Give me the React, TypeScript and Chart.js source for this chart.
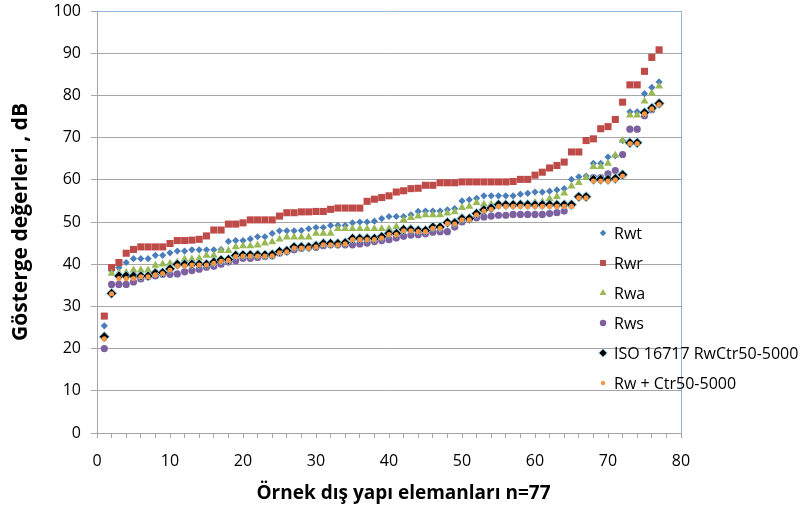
import React, { useEffect, useRef } from 'react';
import { Chart, registerables } from 'chart.js';
import { drawPoint } from 'chart.js/helpers';

Chart.register(...registerables);

// Sample index (x)
const sampleIndex = [
  1, 2, 3, 4, 5, 6, 7, 8, 9, 10, 11, 12, 13, 14, 15, 16, 17, 18, 19, 20,
  21, 22, 23, 24, 25, 26, 27, 28, 29, 30, 31, 32, 33, 34, 35, 36, 37, 38, 39, 40,
  41, 42, 43, 44, 45, 46, 47, 48, 49, 50, 51, 52, 53, 54, 55, 56, 57, 58, 59, 60,
  61, 62, 63, 64, 65, 66, 67, 68, 69, 70, 71, 72, 73, 74, 75, 76, 77,
];

const rwt = [
  25.4, 38.5, 39.2, 40.4, 41.3, 41.3, 41.3, 42.1, 42.1, 42.7,
  43.1, 43.1, 43.4, 43.4, 43.4, 43.4, 43.5, 45.4, 45.6, 45.6,
  46.0, 46.5, 46.5, 47.3, 47.9, 47.9, 47.9, 48.0, 48.4, 48.7,
  48.7, 49.2, 49.2, 49.2, 49.8, 50.0, 50.0, 50.2, 50.8, 51.3,
  51.3, 51.3, 51.7, 52.5, 52.6, 52.6, 52.6, 52.9, 53.2, 55.0,
  55.3, 55.6, 56.2, 56.2, 56.2, 56.2, 56.2, 56.6, 56.8, 57.1,
  57.1, 57.3, 57.6, 57.9, 60.1, 60.7, 60.9, 63.9, 63.9, 65.4,
  65.7, 69.3, 76.1, 76.1, 80.4, 81.9, 83.2,
];

const rwr = [
  27.7, 39.2, 40.4, 42.6, 43.5, 44.1, 44.1, 44.1, 44.1, 44.9,
  45.6, 45.6, 45.7, 45.9, 46.7, 48.1, 48.1, 49.5, 49.5, 49.8,
  50.5, 50.5, 50.5, 50.5, 51.4, 52.2, 52.2, 52.4, 52.4, 52.5,
  52.5, 53.0, 53.3, 53.3, 53.3, 53.3, 54.9, 55.4, 55.8, 56.2,
  57.1, 57.4, 57.9, 58.0, 58.7, 58.7, 59.3, 59.3, 59.3, 59.5,
  59.5, 59.5, 59.5, 59.5, 59.5, 59.5, 59.6, 60.1, 60.1, 61.1,
  61.8, 62.8, 63.4, 64.2, 66.6, 66.6, 69.3, 69.7, 72.1, 72.6,
  74.3, 78.4, 82.5, 82.5, 85.7, 89.0, 90.8,
];

const rwa = [
  23.0, 37.8, 38.0, 38.0, 38.6, 38.6, 38.6, 39.7, 40.0, 40.2,
  40.5, 41.2, 41.2, 41.4, 42.1, 42.1, 43.2, 43.2, 44.1, 44.3,
  44.3, 44.5, 45.0, 45.3, 45.9, 46.4, 46.4, 46.4, 46.4, 47.3,
  47.3, 47.3, 48.4, 48.4, 48.4, 48.4, 48.4, 48.4, 48.4, 48.4,
  48.9, 50.5, 51.0, 51.4, 51.7, 51.7, 51.7, 52.1, 52.4, 53.4,
  53.7, 54.6, 54.2, 54.2, 54.2, 54.2, 54.2, 54.2, 54.2, 54.6,
  54.8, 55.5, 56.0, 56.8, 58.5, 59.3, 60.5, 63.1, 63.1, 63.9,
  65.8, 69.3, 75.3, 75.3, 78.6, 80.5, 82.2,
];

const rws = [
  20.0, 35.2, 35.2, 35.2, 35.8, 36.5, 37.0, 37.2, 37.6, 37.6,
  37.7, 38.2, 38.5, 38.8, 39.3, 39.5, 40.0, 40.5, 40.8, 41.4,
  41.4, 41.6, 41.8, 42.0, 42.6, 43.0, 43.4, 43.8, 44.0, 44.0,
  44.4, 44.6, 44.6, 44.6, 44.6, 44.8, 45.0, 45.4, 45.6, 45.8,
  46.2, 46.6, 46.9, 47.0, 47.2, 47.6, 47.7, 47.7, 48.8, 50.0,
  50.6, 51.0, 51.2, 51.4, 51.6, 51.6, 51.8, 51.8, 51.8, 51.8,
  51.8, 52.0, 52.2, 52.6, 54.0, 56.0, 56.0, 60.5, 60.5, 61.4,
  62.2, 66.0, 72.0, 72.0, 75.2, 76.6, 78.0,
];

const iso16717 = [
  22.8, 33.1, 37.2, 37.2, 37.2, 37.2, 37.2, 37.9, 38.0, 38.9,
  40.0, 40.0, 40.0, 40.0, 40.0, 40.5, 41.0, 41.1, 42.1, 42.2,
  42.2, 42.2, 42.2, 42.3, 43.0, 43.2, 44.1, 44.1, 44.1, 44.4,
  44.9, 44.9, 44.9, 45.1, 46.1, 46.1, 46.1, 46.1, 46.5, 47.3,
  47.3, 48.2, 48.2, 48.0, 48.0, 48.8, 48.8, 49.9, 49.8, 50.8,
  50.8, 52.0, 52.9, 53.3, 54.1, 54.1, 54.1, 54.1, 54.1, 54.1,
  54.1, 54.1, 54.1, 54.1, 54.1, 56.0, 56.0, 60.1, 60.1, 60.1,
  60.3, 61.2, 68.8, 68.8, 75.9, 77.0, 78.1,
];

const rwCtr = [
  22.3, 33.0, 36.6, 36.6, 36.6, 37.0, 37.0, 37.5, 37.8, 38.6,
  39.6, 39.6, 39.8, 39.8, 39.8, 40.2, 40.7, 40.9, 41.8, 41.9,
  41.9, 41.9, 41.9, 42.0, 42.7, 42.9, 43.8, 43.8, 43.8, 44.1,
  44.6, 44.6, 44.6, 44.8, 45.8, 45.8, 45.8, 45.8, 46.2, 47.0,
  47.0, 47.9, 47.9, 47.7, 47.7, 48.5, 48.5, 49.6, 49.5, 50.5,
  50.5, 51.7, 52.6, 53.0, 53.7, 53.7, 53.7, 53.7, 53.7, 53.7,
  53.7, 53.7, 53.7, 53.7, 53.7, 55.7, 55.7, 59.7, 59.7, 59.7,
  60.0, 60.9, 68.6, 68.6, 75.6, 76.8, 77.8,
];

const seriesNames = ['Rwt', 'Rwr', 'Rwa', 'Rws', 'ISO 16717 RwCtr50-5000', 'Rw + Ctr50-5000'];
const xTickLabels = ['0', '10', '20', '30', '40', '50', '60', '70', '80'];
const yTickLabels = ['0', '10', '20', '30', '40', '50', '60', '70', '80', '90', '100'];
const xTitle = 'Örnek dış yapı elemanları n=77';
const yTitle = 'Gösterge değerleri , dB';

const FONT = '"Open Sans"';
const GRID = '#A6A6A6';
const FRAME = '#95B3D7';

const toPoints = (ys: number[]) => ys.map((y, i) => ({ x: sampleIndex[i], y }));

const legendPlugin = {
  id: 'insideLegend',
  afterDraw(chart: any) {
    const { ctx, chartArea } = chart;
    const markerX = chartArea.right - 78;
    const textX = chartArea.right - 67;
    const startY = chartArea.top + 222;
    const step = 30;
    ctx.save();
    chart.data.datasets.forEach((ds: any, i: number) => {
      const y = startY + i * step;
      ctx.fillStyle = ds.backgroundColor;
      ctx.strokeStyle = ds.borderColor;
      ctx.lineWidth = ds.borderWidth;
      drawPoint(
        ctx,
        { pointStyle: ds.pointStyle, radius: ds.legendRadius, rotation: 0, borderWidth: ds.borderWidth } as any,
        markerX,
        y,
      );
      ctx.font = `16px ${FONT}`;
      ctx.fillStyle = '#000';
      ctx.textBaseline = 'middle';
      ctx.textAlign = 'left';
      ctx.fillText(seriesNames[i], textX, y + 1);
    });
    // x-axis title, centred on the whole chart as in the reference
    ctx.font = `bold 19px ${FONT}`;
    ctx.fillStyle = '#000';
    ctx.textAlign = 'center';
    ctx.textBaseline = 'middle';
    ctx.fillText(xTitle, chart.width / 2, chartArea.bottom + 61);
    ctx.restore();
  },
};

export default function App() {
  const ref = useRef<HTMLCanvasElement | null>(null);

  useEffect(() => {
    if (!ref.current) return;
    const mk = (
      label: string,
      data: number[],
      color: string,
      style: string,
      radius: number,
      legendRadius: number,
      order: number,
      border?: string,
      borderWidth = 0,
    ) => ({
      label,
      data: toPoints(data),
      backgroundColor: color,
      borderColor: border || color,
      borderWidth,
      pointStyle: style,
      pointRadius: radius,
      pointBorderWidth: borderWidth,
      pointHoverRadius: radius,
      legendRadius,
      order,
      showLine: false,
    });

    const chart = new Chart(ref.current, {
      type: 'scatter',
      data: {
        datasets: [
          mk(seriesNames[0], rwt, '#4A7EBB', 'rectRot', 3.6, 3.2, 6),
          mk(seriesNames[1], rwr, '#BE4B48', 'rect', 5, 4.2, 5),
          mk(seriesNames[2], rwa, '#98B954', 'triangle', 4.6, 4, 4),
          mk(seriesNames[3], rws, '#7D60A0', 'circle', 3.6, 3.2, 3),
          mk(seriesNames[4], iso16717, '#000000', 'rectRot', 5, 4.2, 2, '#7FC6E0', 1),
          mk(seriesNames[5], rwCtr, '#F79646', 'circle', 2.6, 2.2, 1),
        ] as any,
      },
      options: {
        responsive: false,
        animation: false,
        events: [],
        layout: { padding: { left: 0, right: 126, top: 11, bottom: 0 } },
        plugins: {
          legend: { display: false },
          tooltip: { enabled: false },
        },
        scales: {
          x: {
            type: 'linear',
            min: 0,
            max: 80,
            ticks: {
              stepSize: 2,
              maxTicksLimit: 100,
              autoSkip: false,
              maxRotation: 0,
              padding: 14,
              color: '#000',
              font: { family: FONT, size: 16 },
              callback: (v: any) => {
                const s = String(v);
                return xTickLabels.includes(s) ? s : '';
              },
            },
            grid: {
              color: (c: any) => (c.tick && c.tick.value === 80 ? FRAME : 'rgba(0,0,0,0)'),
              tickColor: GRID,
              tickLength: 5,
              lineWidth: 1,
            },
            border: { color: GRID, width: 1 },
            afterFit: (s: any) => {
              s.height = 82;
              s.paddingLeft = 0;
              s.paddingRight = 0;
            },
          },
          y: {
            type: 'linear',
            min: 0,
            max: 100,
            ticks: {
              stepSize: 10,
              padding: 10,
              color: '#000',
              font: { family: FONT, size: 16 },
              callback: (v: any) => {
                const s = String(v);
                return yTickLabels.includes(s) ? s : '';
              },
            },
            grid: {
              color: (c: any) => (c.tick && c.tick.value === 100 ? FRAME : GRID),
              tickColor: GRID,
              tickLength: 6,
              lineWidth: 1,
            },
            border: { color: GRID, width: 1 },
            title: {
              display: true,
              text: yTitle,
              color: '#000',
              font: { family: FONT, size: 21, weight: 'bold' },
              padding: { top: 8, bottom: 0 },
            },
            afterFit: (s: any) => {
              s.width = 97;
              s.paddingTop = 0;
              s.paddingBottom = 0;
            },
          },
        },
      } as any,
      plugins: [legendPlugin],
    });
    return () => chart.destroy();
  }, []);

  return (
    <div style={{ position: 'absolute', left: 0, top: 0, width: 807, height: 515, background: '#fff' }}>
      <canvas ref={ref} width={807} height={515} style={{ display: 'block' }} />
    </div>
  );
}
